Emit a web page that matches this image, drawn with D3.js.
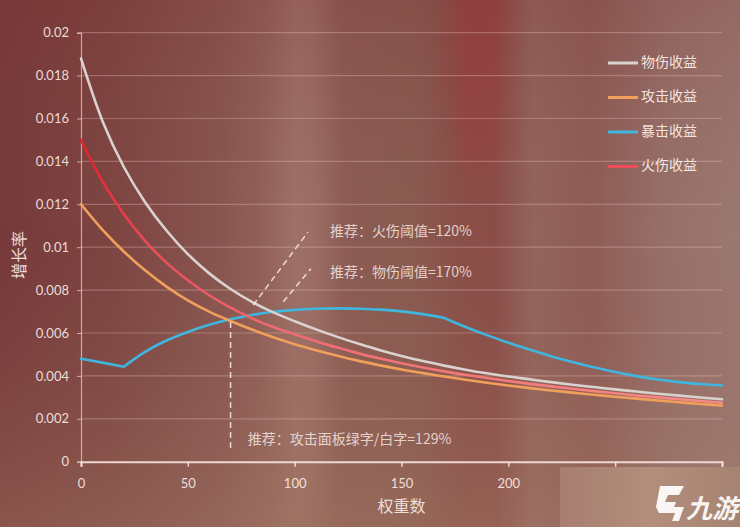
<!DOCTYPE html>
<html>
<head>
<meta charset="utf-8">
<script src="https://cdn.jsdelivr.net/npm/d3@7"></script>
<style>
  body { margin: 0; background: #7e4a44; }
  svg { display: block; }
</style>
</head>
<body>
<svg id="chart" width="740" height="527"></svg>
<script>
// x values (权重数) every 10 units
const xValues = d3.range(0, 301, 10);

// 物伤收益
const physValues = [0.01880, 0.01590, 0.01375, 0.01210, 0.01078, 0.00968, 0.00878, 0.00805, 0.00745, 0.00696,
  0.00655, 0.00617, 0.00582, 0.00550, 0.00520, 0.00493, 0.00469, 0.00448, 0.00429, 0.00412,
  0.00397, 0.00384, 0.00371, 0.00359, 0.00348, 0.00337, 0.00327, 0.00317, 0.00308, 0.00299, 0.00291];
// 攻击收益
const atkValues = [0.01200, 0.01082, 0.00980, 0.00892, 0.00816, 0.00752, 0.00700, 0.00656, 0.00616, 0.00580,
  0.00548, 0.00520, 0.00494, 0.00470, 0.00449, 0.00430, 0.00413, 0.00397, 0.00382, 0.00368,
  0.00355, 0.00343, 0.00332, 0.00322, 0.00312, 0.00303, 0.00294, 0.00285, 0.00277, 0.00269, 0.00262];
// 暴击收益
const critValues = [0.00480, 0.00462, 0.00443, 0.00512, 0.00565, 0.00605, 0.00638, 0.00664, 0.00684, 0.00699,
  0.00708, 0.00713, 0.00715, 0.00713, 0.00709, 0.00701, 0.00688, 0.00670, 0.00628, 0.00590,
  0.00555, 0.00523, 0.00492, 0.00465, 0.00440, 0.00418, 0.00399, 0.00383, 0.00371, 0.00362, 0.00355];
// 火伤收益
const fireValues = [0.01500, 0.01308, 0.01155, 0.01030, 0.00928, 0.00846, 0.00776, 0.00718, 0.00668, 0.00628,
  0.00594, 0.00562, 0.00532, 0.00505, 0.00481, 0.00459, 0.00439, 0.00421, 0.00405, 0.00390,
  0.00376, 0.00363, 0.00351, 0.00340, 0.00329, 0.00319, 0.00309, 0.00300, 0.00291, 0.00283, 0.00275];

const critBreaks = [20, 170]; // kinks in the crit curve

const seriesNames = ["物伤收益", "攻击收益", "暴击收益", "火伤收益"];
const seriesValues = [physValues, atkValues, critValues, fireValues];
const seriesColors = ["#dad2cf", "#f0a05a", "#3fb6de", "url(#fireGrad)"];
const legendColors = ["#dad2cf", "#f0a05a", "#3fb6de", "#ee4e5a"];

const yTicks = d3.range(0, 0.0201, 0.002);
const xTicks = [0, 50, 100, 150, 200, 250, 300];
const xTickLabels = ["0", "50", "100", "150", "200", "", ""];

// annotations in data space
const vLine = { x: 70, y0: 0.00064, y1: 0.0066 };
const diagLines = [
  { x0: 80.6, y0: 0.0073, x1: 106.2, y1: 0.0107 },
  { x0: 94.7, y0: 0.00746, x1: 107.6, y1: 0.0090 }
];
const notes = [
  { x: 116.5, y: 0.01072, text: "推荐：火伤阈值=120%" },
  { x: 116.5, y: 0.00881, text: "推荐：物伤阈值=170%" },
  { x: 78.1, y: 0.00101, text: "推荐：攻击面板绿字/白字=129%" }
];

const svg = d3.select("#chart");
const width = +svg.attr("width");
const height = +svg.attr("height");
const cjk = "'Noto Sans CJK SC', 'Noto Sans', sans-serif";
const numFont = "Lato, 'Open Sans', sans-serif";

const x = d3.scaleLinear().domain([0, 300]).range([81, 722]);
const y = d3.scaleLinear().domain([0, 0.02]).range([461.7, 32.7]);

// background
const defs = svg.append("defs");
const bgH = defs.append("linearGradient").attr("id", "bgH").attr("x1", 0).attr("x2", 1).attr("y1", 0).attr("y2", 0);
[[0, "#77393a"], [0.15, "#7d4441"], [0.3, "#895550"], [0.4, "#98695f"], [0.46, "#8c5b53"],
 [0.56, "#895a50"], [0.63, "#8a4e48"], [0.67, "#8b4d48"], [0.72, "#93645c"], [0.8, "#8f5c56"],
 [0.9, "#97706a"], [1, "#9c7872"]]
  .forEach(s => bgH.append("stop").attr("offset", s[0]).attr("stop-color", s[1]));
const bgV = defs.append("linearGradient").attr("id", "bgV").attr("x1", 0).attr("x2", 0).attr("y1", 0).attr("y2", 1);
bgV.append("stop").attr("offset", 0).attr("stop-color", "#7a2e2e").attr("stop-opacity", 0.22);
bgV.append("stop").attr("offset", 0.45).attr("stop-color", "#8a5a50").attr("stop-opacity", 0);
bgV.append("stop").attr("offset", 1).attr("stop-color", "#a88068").attr("stop-opacity", 0.4);
defs.append("filter").attr("id", "blur").attr("x", "-50%").attr("y", "-50%").attr("width", "200%").attr("height", "200%")
  .append("feGaussianBlur").attr("stdDeviation", 14);

const fireGrad = defs.append("linearGradient").attr("id", "fireGrad")
  .attr("gradientUnits", "userSpaceOnUse").attr("x1", x(0)).attr("x2", x(300)).attr("y1", 0).attr("y2", 0);
fireGrad.append("stop").attr("offset", 0).attr("stop-color", "#e3202c");
fireGrad.append("stop").attr("offset", 0.1).attr("stop-color", "#ea4a58");
fireGrad.append("stop").attr("offset", 0.3).attr("stop-color", "#ef6a72");
fireGrad.append("stop").attr("offset", 1).attr("stop-color", "#f58a84");

svg.append("rect").attr("width", width).attr("height", height).attr("fill", "url(#bgH)");
svg.append("ellipse").attr("cx", 478).attr("cy", 30).attr("rx", 22).attr("ry", 150)
  .attr("fill", "#a0383a").attr("opacity", 0.55).attr("filter", "url(#blur)");
svg.append("ellipse").attr("cx", 305).attr("cy", 230).attr("rx", 26).attr("ry", 300)
  .attr("fill", "#a77c72").attr("opacity", 0.45).attr("filter", "url(#blur)");
svg.append("rect").attr("width", width).attr("height", height).attr("fill", "url(#bgV)");

// gridlines
svg.append("g").selectAll("line").data(yTicks.slice(1)).join("line")
  .attr("x1", x(0)).attr("x2", x(300))
  .attr("y1", d => y(d)).attr("y2", d => y(d))
  .attr("stroke", "rgba(240,200,195,0.32)").attr("stroke-width", 1.2);

// y axis
const yAxis = svg.append("g").attr("transform", `translate(${x(0)},0)`)
  .call(d3.axisLeft(y).tickValues(yTicks).tickSize(4).tickPadding(8)
    .tickFormat(d => String(+d.toFixed(3))));
yAxis.select(".domain").attr("stroke", "rgba(240,215,210,0.7)").attr("stroke-width", 1.2);
yAxis.selectAll(".tick line").attr("stroke", "rgba(240,215,210,0.7)");
yAxis.selectAll("text").attr("fill", "rgba(248,235,230,0.92)")
  .style("font-family", numFont).style("font-size", "13px");

// x axis
const xAxis = svg.append("g").attr("transform", `translate(0,${y(0)})`)
  .call(d3.axisBottom(x).tickValues(xTicks).tickSize(5).tickPadding(12)
    .tickFormat((d, i) => xTickLabels[i]));
xAxis.select(".domain").attr("stroke", "rgba(248,228,222,0.9)").attr("stroke-width", 2);
xAxis.selectAll(".tick line").attr("stroke", "rgba(248,228,222,0.9)").attr("stroke-width", 1.5);
xAxis.selectAll("text").attr("fill", "rgba(248,235,230,0.92)")
  .style("font-family", numFont).style("font-size", "13px");

// axis titles
svg.append("text").attr("x", (x(0) + x(300)) / 2).attr("y", 508)
  .attr("text-anchor", "middle").attr("dominant-baseline", "middle")
  .attr("fill", "rgba(248,235,230,0.92)").style("font-family", cjk).style("font-size", "16px")
  .text("权重数");
svg.append("text").attr("transform", "translate(21,255) rotate(-90)")
  .attr("text-anchor", "middle").attr("dominant-baseline", "middle")
  .attr("fill", "rgba(248,235,230,0.92)").style("font-family", cjk).style("font-size", "16px")
  .text("增长率");

// series
const line = d3.line().x(d => x(d[0])).y(d => y(d[1])).curve(d3.curveCatmullRom.alpha(0.5));
const drawOrder = [2, 1, 3, 0];
drawOrder.forEach(si => {
  const pts = xValues.map((xv, i) => [xv, seriesValues[si][i]]);
  let segments = [pts];
  if (si === 2) {
    const cuts = [0, ...critBreaks.map(b => xValues.indexOf(b)), pts.length - 1];
    segments = d3.pairs(cuts).map(([a, b]) => pts.slice(a, b + 1));
  }
  svg.append("path")
    .attr("d", segments.map(s => line(s)).join(""))
    .attr("fill", "none")
    .attr("stroke", seriesColors[si])
    .attr("stroke-width", 2.6)
    .attr("stroke-linejoin", "round")
    .attr("stroke-linecap", "round");
});

// annotations
const dashColor = "rgba(248,238,232,0.85)";
svg.append("line")
  .attr("x1", x(vLine.x)).attr("x2", x(vLine.x))
  .attr("y1", y(vLine.y0)).attr("y2", y(vLine.y1))
  .attr("stroke", dashColor).attr("stroke-width", 1.5).attr("stroke-dasharray", "6,4");
svg.append("g").selectAll("line").data(diagLines).join("line")
  .attr("x1", d => x(d.x0)).attr("y1", d => y(d.y0))
  .attr("x2", d => x(d.x1)).attr("y2", d => y(d.y1))
  .attr("stroke", dashColor).attr("stroke-width", 1.5).attr("stroke-dasharray", "6,4");
svg.append("g").selectAll("text").data(notes).join("text")
  .attr("x", d => x(d.x)).attr("y", d => y(d.y))
  .attr("dominant-baseline", "middle")
  .attr("fill", "rgba(245,230,225,0.85)")
  .style("font-family", cjk).style("font-size", "14px")
  .text(d => d.text);

// legend
const legend = svg.append("g").attr("transform", "translate(608,63)");
seriesNames.forEach((name, i) => {
  const g = legend.append("g").attr("transform", `translate(0,${i * 34.5})`);
  g.append("line").attr("x1", 0).attr("x2", 30).attr("y1", 0).attr("y2", 0)
    .attr("stroke", legendColors[i]).attr("stroke-width", 3);
  g.append("text").attr("x", 33).attr("y", 0).attr("dominant-baseline", "middle")
    .attr("fill", "rgba(248,238,234,0.95)")
    .style("font-family", cjk).style("font-size", "14px").text(name);
});

// watermark block
const wm = defs.append("linearGradient").attr("id", "wmGrad").attr("x1", 0).attr("x2", 1);
wm.append("stop").attr("offset", 0).attr("stop-color", "#a98072");
wm.append("stop").attr("offset", 0.5).attr("stop-color", "#b4917d");
wm.append("stop").attr("offset", 1).attr("stop-color", "#a78472");
svg.append("rect").attr("x", 560).attr("y", 467).attr("width", 180).attr("height", 60)
  .attr("fill", "url(#wmGrad)").attr("opacity", 0.92);
svg.append("path")
  .attr("d", "M660,486 L684,486 L679,495 L668,495 L665,502 L676,502 L674,507 L684,507 L679,521 L672,521 L675,513 L659,513 L656,507 Z")
  .attr("fill", "rgba(255,255,255,0.92)");
svg.append("text").attr("x", 686).attr("y", 518)
  .attr("fill", "rgba(255,255,255,0.92)")
  .style("font-family", cjk).style("font-size", "26px").style("font-weight", "bold")
  .style("font-style", "italic")
  .text("九游");
</script>
</body>
</html>
